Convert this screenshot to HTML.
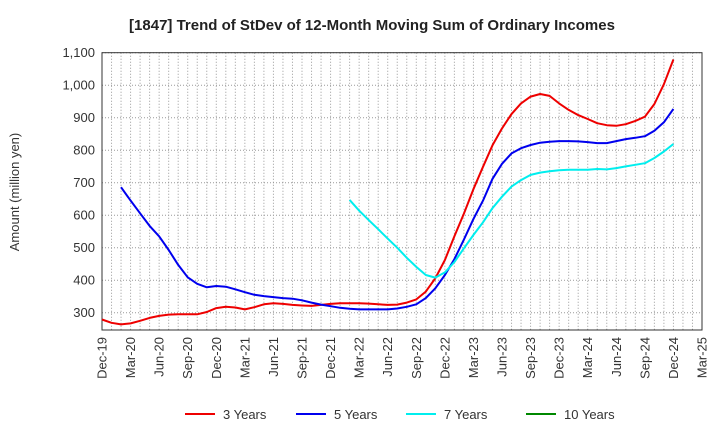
<!DOCTYPE html>
<html><head><meta charset="utf-8"><style>
body{margin:0;background:#fff;}
svg{display:block;font-family:"Liberation Sans",sans-serif;}
</style></head><body>
<svg id="chart" width="720" height="440" viewBox="0 0 720 440">
<text x="372" y="30" text-anchor="middle" font-size="15" font-weight="bold" fill="#222">[1847]  Trend of StDev of 12-Month Moving Sum of Ordinary Incomes</text>
<text transform="translate(19,192) rotate(-90)" text-anchor="middle" font-size="13" fill="#333">Amount (million yen)</text>
<g id="grid"></g>
<g id="axes"></g>
<g id="series"></g>
<g id="legend"></g>
</svg>
<script>
const yTicks=[300,400,500,600,700,800,900,1000,1100];
const xTickLabels=["Dec-19","Mar-20","Jun-20","Sep-20","Dec-20","Mar-21","Jun-21","Sep-21","Dec-21","Mar-22","Jun-22","Sep-22","Dec-22","Mar-23","Jun-23","Sep-23","Dec-23","Mar-24","Jun-24","Sep-24","Dec-24","Mar-25"];
const seriesNames=["3 Years","5 Years","7 Years","10 Years"];
const y3=[279,269,264,267,275,284,290,294,295,295,295,302,314,318,316,310,317,326,329,327,324,322,321,324,327,329,329,329,328,326,324,325,331,341,365,406,462,535,605,680,749,815,867,911,944,965,973,967,944,924,908,896,883,877,875,880,890,903,942,1003,1079];
const y5=[null,null,686,645,606,567,535,493,447,409,389,378,382,380,372,363,355,351,348,345,343,338,331,325,320,315,312,310,310,310,310,313,318,326,345,375,416,465,525,588,645,712,758,790,806,816,823,826,828,828,827,825,822,822,828,834,838,843,860,886,927];
const y7=[null,null,null,null,null,null,null,null,null,null,null,null,null,null,null,null,null,null,null,null,null,null,null,null,null,null,647,614,585,557,528,500,469,441,416,408,424,456,498,539,578,622,657,688,708,724,731,735,738,740,740,740,742,741,745,750,755,760,776,796,819];
const y10=[];

const L=102,R=702,T=52.7,B=330,NM=63,YMIN=1100-(B-T)/0.325,YMAX=1100;
const sx=i=>L+(R-L)*i/NM;
const sy=v=>B-(v-YMIN)/(YMAX-YMIN)*(B-T);
const NS="http://www.w3.org/2000/svg";
function mk(tag,attrs,parent,txt){const e=document.createElementNS(NS,tag);for(const k in attrs)e.setAttribute(k,attrs[k]);if(txt!==undefined)e.textContent=txt;parent.appendChild(e);return e;}
const grid=document.getElementById('grid'),axes=document.getElementById('axes'),ser=document.getElementById('series'),leg=document.getElementById('legend');
for(let i=1;i<NM;i++){const l=mk('line',{x1:sx(i),x2:sx(i),y1:T,y2:B,stroke:'#999','stroke-width':1,'stroke-dasharray':'1,2'},grid);

}
yTicks.forEach(v=>{const l=mk('line',{x1:L,x2:R,y1:sy(v),y2:sy(v),stroke:'#999','stroke-width':1,'stroke-dasharray':'1,2'},grid);


const t=mk('text',{x:L-7,y:sy(v)+4.5,'text-anchor':'end','font-size':13,fill:'#333'},axes,v.toLocaleString('en-US'));

});
xTickLabels.forEach((s,j)=>{const x=sx(j*3);const t=mk('text',{transform:`translate(${x+4.5},337) rotate(-90)`,'text-anchor':'end','font-size':13,fill:'#333'},axes,s);

});
const fr=mk('rect',{x:L,y:T,width:R-L,height:B-T,fill:'none',stroke:'#333','stroke-width':1},axes);


const colors=['#ee0000','#0000ee','#00eeee','#008800'];
[y3,y5,y7,y10].forEach((arr,si)=>{let d='',pen=false;arr.forEach((v,i)=>{if(v==null){pen=false;return;}d+=(pen?'L':'M')+sx(i).toFixed(1)+','+sy(v).toFixed(1);pen=true;});
if(d){const p=mk('path',{d:d,fill:'none',stroke:colors[si],'stroke-width':2,'stroke-linejoin':'round'},ser);

}});
const lx=[185,296,406,526];
seriesNames.forEach((n,si)=>{const g=mk('g',{},leg);


mk('line',{x1:lx[si],x2:lx[si]+30,y1:414,y2:414,stroke:colors[si],'stroke-width':2},g);
mk('text',{x:lx[si]+38,y:419,'font-size':13,fill:'#333'},g,n);});
</script>
</body></html>
